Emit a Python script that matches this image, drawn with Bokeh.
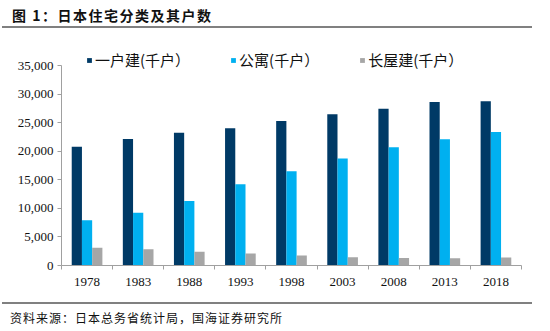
from bokeh.plotting import figure
from bokeh.models import (ColumnDataSource, FixedTicker, NumeralTickFormatter, Legend,
                          LegendItem, Range1d, Div)
from bokeh.layouts import column
from bokeh.transform import dodge
from bokeh.embed import file_html
from bokeh.resources import INLINE

# ---- data ----
years = ["1978", "1983", "1988", "1993", "1998", "2003", "2008", "2013", "2018"]
detached = [20760, 22150, 23210, 24000, 25270, 26490, 27450, 28600, 28760]
apartment = [7930, 9250, 11300, 14200, 16500, 18730, 20680, 22090, 23350]
row_house = [3100, 2850, 2400, 2100, 1750, 1460, 1330, 1290, 1410]
series_names = ["一户建(千户）", "公寓(千户）", "长屋建(千户）"]
y_ticks = [0, 5000, 10000, 15000, 20000, 25000, 30000, 35000]
title_text = "图 1：日本住宅分类及其户数"
source_text = "资料来源：日本总务省统计局，国海证券研究所"

colors = ["#003A66", "#00B0F0", "#A6A6A6"]
CJK = "Noto Sans CJK SC"
SERIF = "Liberation Serif"

W = 550
HEAD_H = 28          # title block (canvas y 0..28)
FIG_H = 274          # figure block (canvas y 28..302)
FOOT_H = 29          # source block (canvas y 302..331)
# frame inside figure (canvas coords)
FL, FR, FT, FB = 61, 521, 45, 265

n = len(years)
centers = [i + 0.5 for i in range(n)]
bounds = [i for i in range(n + 1)]

src = ColumnDataSource(dict(x=centers, detached=detached, apartment=apartment, row_house=row_house))

ymax_axis = y_ticks[-1]
px_per_unit = 200 / ymax_axis
y_end = ymax_axis + (65 - FT) / px_per_unit

fig = figure(width=W, height=FIG_H, x_range=Range1d(0, n), y_range=Range1d(0, y_end),
             output_backend="svg", toolbar_location=None,
             min_border_left=FL, min_border_right=W - FR,
             min_border_top=FT - HEAD_H, min_border_bottom=HEAD_H + FIG_H - FB)
fig.outline_line_color = None
fig.xgrid.visible = False
fig.ygrid.visible = False
fig.background_fill_color = "white"
fig.border_fill_color = "white"

axis_gray = "#A0A0A0"
# x axis
xa = fig.xaxis[0]
xa.ticker = FixedTicker(ticks=centers, minor_ticks=bounds)
xa.major_label_overrides = {c: y for c, y in zip(centers, years)}
xa.major_tick_line_color = None
xa.major_tick_in = 0
xa.major_tick_out = 0
xa.minor_tick_in = 0
xa.minor_tick_out = 4
xa.minor_tick_line_color = axis_gray
xa.axis_line_color = axis_gray
xa.major_label_standoff = 8
xa.major_label_text_font = SERIF
xa.major_label_text_font_size = "13px"
xa.major_label_text_color = "#111111"

# y axis
ya = fig.yaxis[0]
ya.ticker = FixedTicker(ticks=y_ticks, minor_ticks=[])
ya.formatter = NumeralTickFormatter(format="0,0")
ya.bounds = (0, ymax_axis)
ya.major_tick_in = 0
ya.major_tick_out = 4
ya.major_tick_line_color = axis_gray
ya.minor_tick_line_color = None
ya.axis_line_color = axis_gray
ya.major_label_standoff = 4
ya.major_label_text_font = SERIF
ya.major_label_text_font_size = "13px"
ya.major_label_text_color = "#111111"

fields = ["detached", "apartment", "row_house"]
offsets = [-0.2, 0.0, 0.2]
renderers = []
for f, o, c in zip(fields, offsets, colors):
    r = fig.vbar(x=dodge("x", o), top=f, width=0.2, source=src, fill_color=c, line_color=None)
    renderers.append(r)

legend = Legend(items=[LegendItem(label=nm, renderers=[r]) for nm, r in zip(series_names, renderers)],
                orientation="horizontal", location=(86 - FL, FB - 63 - 7),
                glyph_width=6, glyph_height=6, label_standoff=3, spacing=40,
                padding=0, margin=0, border_line_color=None, background_fill_alpha=0,
                label_text_font=CJK, label_text_font_size="15px", label_height=14,
                label_text_color="#111111")
fig.add_layout(legend)

head = Div(text=title_text, width=530, height=HEAD_H, margin=(0, 18, 0, 2),
           styles={"font-family": CJK, "font-size": "14px", "font-weight": "bold",
                   "color": "#111111", "border-bottom": "2px solid #808080",
                   "box-sizing": "border-box", "padding": "5px 0 0 10px",
                   "letter-spacing": "1.5px",
                   "line-height": "20px", "background": "white"})
foot = Div(text=source_text, width=530, height=FOOT_H, margin=(0, 18, 0, 2),
           styles={"font-family": CJK, "font-size": "12px", "color": "#111111",
                   "border-top": "2px solid #808080", "box-sizing": "border-box",
                   "padding": "6px 0 0 8px", "letter-spacing": "1px",
                   "line-height": "16px", "background": "white"})

p = column(head, fig, foot, spacing=0)

open("out.html", "w").write(file_html(p, INLINE))
